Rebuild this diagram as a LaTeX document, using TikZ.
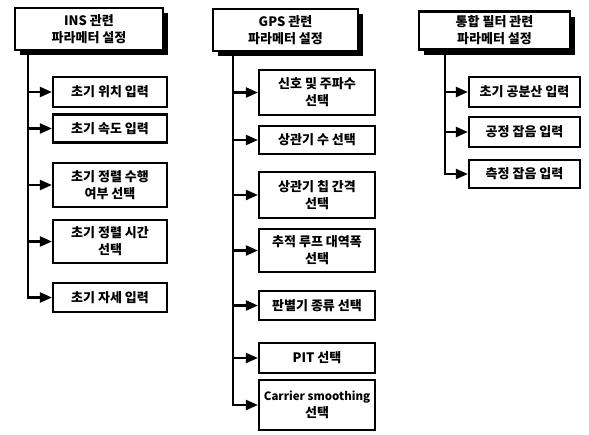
\documentclass[tikz,border=0pt]{standalone}
\usepackage{fontspec}
\newfontfamily\krfont{Noto Sans CJK KR}
\usetikzlibrary{arrows.meta,shadows}
\tikzset{
  head/.style={draw, line width=2.2pt, fill=white, align=center, minimum height=42pt, inner sep=2pt,
    drop shadow={shadow xshift=5pt, shadow yshift=-5pt, opacity=1, fill=black}},
  item/.style={draw, line width=2.2pt, fill=white, align=center, inner sep=2pt},
  arrow/.style={-{Triangle[length=12pt,width=10pt]}, line width=2.2pt},
  trunk/.style={line width=2.2pt}
}

\begin{document}
\begin{tikzpicture}[x=1pt,y=-1pt,font=\krfont\bfseries\fontsize{13}{17}\selectfont]
  \useasboundingbox (0,0) rectangle (589,434);
  % INS
  \node[head, minimum width=148pt] (insH) at (89,29) {INS 관련\\파라메터 설정};
  \node[item, minimum width=114pt, minimum height=30pt] (ins1) at (110,92) {초기 위치 입력};
  \node[item, minimum width=114pt, minimum height=28pt] (ins2) at (110,128.5) {초기 속도 입력};
  \node[item, minimum width=114pt, minimum height=44pt] (ins3) at (110,185) {초기 정렬 수행\\여부 선택};
  \node[item, minimum width=114pt, minimum height=43pt] (ins4) at (110,241.5) {초기 정렬 시간\\선택};
  \node[item, minimum width=114pt, minimum height=29pt] (ins5) at (110,297.5) {초기 자세 입력};
  \coordinate (insT) at (28,50);
  % GPS
  \node[head, minimum width=145pt] (gpsH) at (285.5,30) {GPS 관련\\파라메터 설정};
  \node[item, minimum width=116pt, minimum height=45pt] (gps1) at (317,92.5) {신호 및 주파수\\선택};
  \node[item, minimum width=116pt, minimum height=28pt] (gps2) at (317,140) {상관기 수 선택};
  \node[item, minimum width=116pt, minimum height=46pt] (gps3) at (317,195) {상관기 칩 간격\\선택};
  \node[item, minimum width=116pt, minimum height=43pt] (gps4) at (317,250.5) {추적 루프 대역폭\\선택};
  \node[item, minimum width=116pt, minimum height=29pt] (gps5) at (317,305.5) {판별기 종류 선택};
  \node[item, minimum width=116pt, minimum height=30pt] (gps6) at (317,358) {PIT 선택};
  \node[item, minimum width=116pt, minimum height=50pt] (gps7) at (317,405)
    {{\fontsize{11.5}{17}\selectfont Carrier smoothing}\\선택};
  \coordinate (gpsT) at (233,51);
  % filter
  \node[head, minimum width=151pt, minimum height=38pt] (fltH) at (494.5,30.5) {통합 필터 관련\\파라메터 설정};
  \node[item, minimum width=111pt, minimum height=30pt] (flt1) at (524.5,92) {초기 공분산 입력};
  \node[item, minimum width=111pt, minimum height=30pt] (flt2) at (524.5,132) {공정 잡음 입력};
  \node[item, minimum width=111pt, minimum height=28pt] (flt3) at (524.5,174) {측정 잡음 입력};
  \coordinate (fltT) at (445,49);
  % connectors
  \draw[arrow] (insT) |- (ins5.west);
  \draw[arrow] (insT |- ins1.west) -- (ins1.west);
  \draw[arrow] (insT |- ins2.west) -- (ins2.west);
  \draw[arrow] (insT |- ins3.west) -- (ins3.west);
  \draw[arrow] (insT |- ins4.west) -- (ins4.west);
  \draw[arrow] (gpsT) |- (gps7.west);
  \draw[arrow] (gpsT |- gps1.west) -- (gps1.west);
  \draw[arrow] (gpsT |- gps2.west) -- (gps2.west);
  \draw[arrow] (gpsT |- gps3.west) -- (gps3.west);
  \draw[arrow] (gpsT |- gps4.west) -- (gps4.west);
  \draw[arrow] (gpsT |- gps5.west) -- (gps5.west);
  \draw[arrow] (gpsT |- gps6.west) -- (gps6.west);
  \draw[arrow] (fltT) |- (flt3.west);
  \draw[arrow] (fltT |- flt1.west) -- (flt1.west);
  \draw[arrow] (fltT |- flt2.west) -- (flt2.west);
\end{tikzpicture}
\end{document}
